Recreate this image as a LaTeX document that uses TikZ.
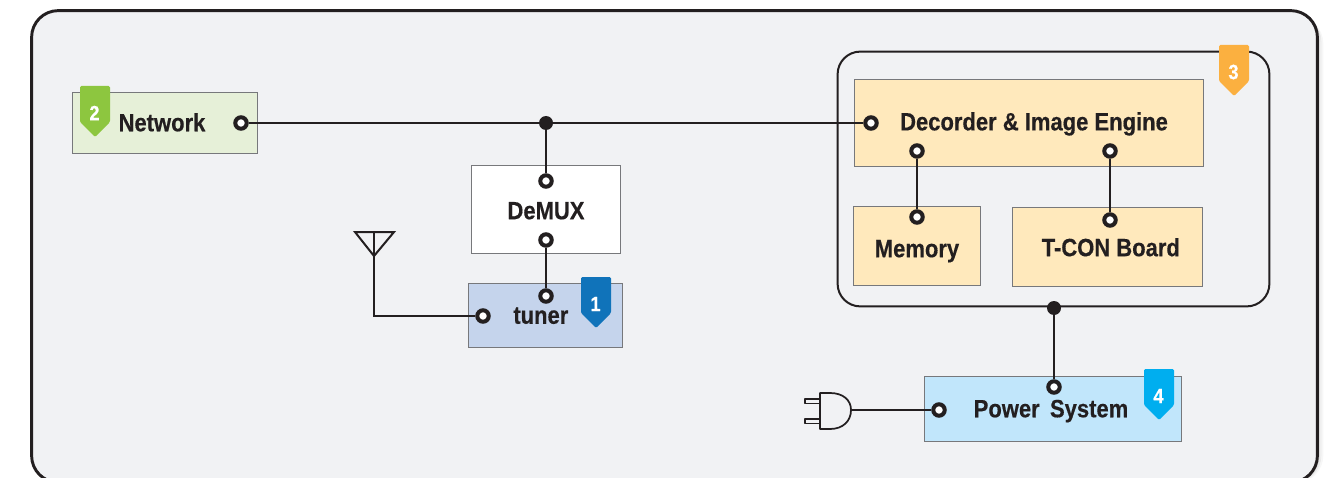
\documentclass[tikz,border=0pt]{standalone}
\usepackage{fontspec}
\setmainfont{Liberation Sans}[FakeStretch=0.88,BoldFeatures={FakeBold=0.4}]
\usetikzlibrary{calc}
\definecolor{ink}{HTML}{231F20}
\definecolor{edge}{HTML}{77787B}
\definecolor{panel}{HTML}{F1F2F4}
\definecolor{netfill}{HTML}{E6F0D8}
\definecolor{tunerfill}{HTML}{C5D4EC}
\definecolor{enginefill}{HTML}{FFE9BC}
\definecolor{powerfill}{HTML}{C1E6FB}
\definecolor{pinone}{HTML}{1073BA}
\definecolor{pintwo}{HTML}{8DC63F}
\definecolor{pinthree}{HTML}{FBB040}
\definecolor{pinfour}{HTML}{00AEEF}
\tikzset{
  x=0.75pt,y=-0.75pt,
  sized/.style 2 args={minimum width=#1*0.75pt+0.6pt,minimum height=#2*0.75pt+0.6pt},
  boxnode/.style={draw=edge,line width=0.6pt,inner sep=0pt,outer sep=0pt,text=ink,text height=12.4pt,text depth=0pt,font=\fontsize{18.75}{20}\selectfont\bfseries},
  term/.style={circle,draw=ink,fill=white,line width=3pt,minimum size=8.6pt,inner sep=0pt},
  junction/.style={circle,fill=ink,minimum size=10.5pt,inner sep=0pt},
  wire/.style={draw=ink,line width=1.5pt},
  pinshape/.style={line join=round,rounded corners=1pt},
  pinlabel/.style={text=white,inner sep=0pt,font=\fontsize{15.5}{16}\selectfont\bfseries},
}
\newcommand{\pinbadge}[4]{%
  \fill[#3,pinshape] (#1,#2) -- ++(30,0) -- ++(0,36) -- ++(-15,15) -- ++(-15,-15) -- cycle;
  \node[pinlabel] (pin#4) at (#1+14.5,#2+27) {#4};
}
\begin{document}
\begin{tikzpicture}
\clip (0,0) rectangle (1329,478);
% panel with soft shadow
\foreach \o/\a in {5/0.03,3/0.05,1.5/0.08}{
  \draw[black,opacity=\a,line width=2pt,rounded corners=20pt] (33+\o,12+\o) rectangle (1317+\o,482);
}
\node[draw=ink,fill=panel,line width=2.2pt,rounded corners=20pt,inner sep=0pt,outer sep=0pt,sized={1285}{471}] (panel) at (674.5,246.5) {};
% group
\node[draw=ink,line width=1.5pt,rounded corners=17pt,inner sep=0pt,outer sep=0pt,sized={431}{254}] (group) at (1053.5,179) {};
% boxes
\node[boxnode,fill=netfill,sized={184}{60}] (network) at (165,123) {Network\hspace*{4.5pt}};
\node[boxnode,fill=white,sized={148}{87}] (demux) at (546,209.5) {\raisebox{-1.1pt}{DeMUX}};
\node[boxnode,fill=tunerfill,sized={153}{63}] (tuner) at (545.5,315.5) {tuner\hspace*{7pt}};
\node[boxnode,fill=enginefill,sized={348}{86}] (engine) at (1029,123) {\hspace*{7.5pt}\raisebox{0.7pt}{Decorder \& Image Engine}};
\node[boxnode,fill=enginefill,sized={126}{78}] (memory) at (917,246) {\raisebox{-2.2pt}{Memory}};
\node[boxnode,fill=enginefill,sized={189}{78}] (tcon) at (1107.5,247) {\raisebox{-0.7pt}{\hspace*{5pt}T-CON Board}};
\node[boxnode,fill=powerfill,sized={256}{64}] (power) at (1053,409) {Power\, System\hspace*{3pt}};
% terminals
\node[term] (tnet) at (241,123) {};
\node[term] (tdemuxa) at (546,181) {};
\node[term] (tdemuxb) at (546,240) {};
\node[term] (ttunera) at (546,296) {};
\node[term] (ttunerb) at (483,316) {};
\node[term] (tenga) at (871,123) {};
\node[term] (tengb) at (917,151) {};
\node[term] (tengc) at (1110,151) {};
\node[term] (tmem) at (917,217) {};
\node[term] (ttcon) at (1110,220) {};
\node[term] (tpowa) at (1054,387) {};
\node[term] (tpowb) at (939,410) {};
\node[junction] (jnet) at (546,123) {};
\node[junction] (jpow) at (1054,308) {};
% antenna and plug
\coordinate (ant) at (374,256);
\draw[ink,line width=1.5pt,line join=miter] (355,232) -- (394,232) -- (ant) -- cycle;
\draw[ink,line width=1.5pt] (374,232) -- (ant);
\coordinate (plugtip) at (851,410);
\draw[ink,line width=1.3pt,line join=round] (820,393) -- (830,393) .. controls (843,393) and (851,400) .. (plugtip) .. controls (851,421) and (843,429) .. (830,429) -- (820,429) -- cycle;
\draw[ink,line width=1.3pt,line join=round] (820,399) -- (805,399) -- (805,403.5) -- (820,403.5);
\draw[ink,line width=1.3pt,line join=round] (820,419) -- (805,419) -- (805,423.5) -- (820,423.5);
% wires
\draw[wire] (tnet) -- (jnet);
\draw[wire] (jnet) -- (tenga);
\draw[wire] (jnet) -- (tdemuxa);
\draw[wire] (tdemuxb) -- (ttunera);
\draw[wire] (ant) |- (ttunerb);
\draw[wire] (tengb) -- (tmem);
\draw[wire] (tengc) -- (ttcon);
\draw[wire] (jpow) -- (tpowa);
\draw[wire] (plugtip) -- (tpowb);
% badges
\pinbadge{581}{277}{pinone}{1}
\pinbadge{80}{86}{pintwo}{2}
\pinbadge{1219}{45}{pinthree}{3}
\pinbadge{1144}{369}{pinfour}{4}
\end{tikzpicture}
\end{document}
